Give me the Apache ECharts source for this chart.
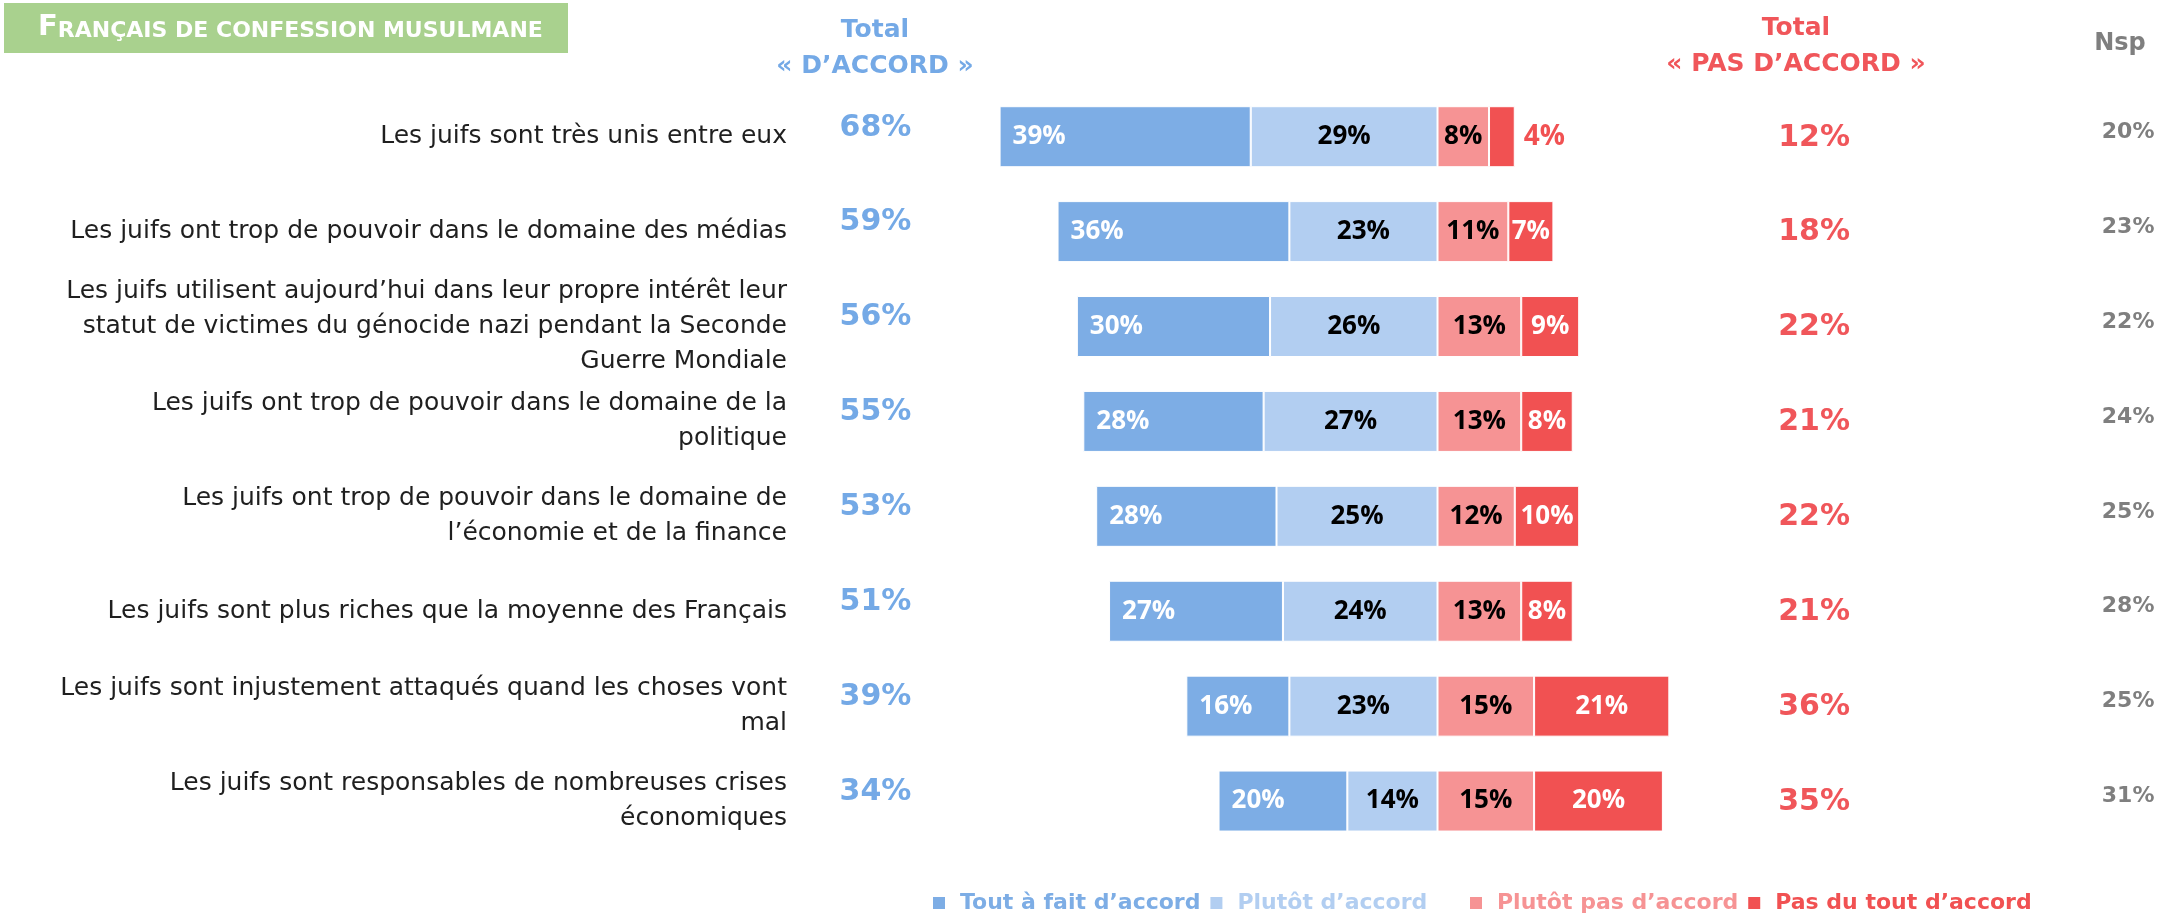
<!DOCTYPE html>
<html>
<head>
<meta charset="utf-8">
<script src="https://cdn.jsdelivr.net/npm/echarts@6/dist/echarts.min.js"></script>
<style>
  html, body { margin: 0; padding: 0; background: #fff; }
  #chart { width: 2158px; height: 913px; }
</style>
</head>
<body>
<div id="chart"></div>
<script>
// questions (line breaks as in the slide)
const categories = [
  "Les juifs sont très unis entre eux",
  "Les juifs ont trop de pouvoir dans le domaine des médias",
  "Les juifs utilisent aujourd’hui dans leur propre intérêt leur\nstatut de victimes du génocide nazi pendant la Seconde\nGuerre Mondiale",
  "Les juifs ont trop de pouvoir dans le domaine de la\npolitique",
  "Les juifs ont trop de pouvoir dans le domaine de\nl’économie et de la finance",
  "Les juifs sont plus riches que la moyenne des Français",
  "Les juifs sont injustement attaqués quand les choses vont\nmal",
  "Les juifs sont responsables de nombreuses crises\néconomiques"
];
const toutAFait = [39, 36, 30, 28, 28, 27, 16, 20];
const plutotAccord = [29, 23, 26, 27, 25, 24, 23, 14];
const plutotPas = [8, 11, 13, 13, 12, 13, 15, 15];
const pasDuTout = [4, 7, 9, 8, 10, 8, 21, 20];
const totalAccord = [68, 59, 56, 55, 53, 51, 39, 34];
const totalPasAccord = [12, 18, 22, 21, 22, 21, 36, 35];
const nsp = [20, 23, 22, 24, 25, 28, 25, 31];

const C_DARK = "#7DADE5";
const C_LIGHT = "#B2CEF1";
const C_PINK = "#F69394";
const C_RED = "#F15152";
const GEO = "DejaVu Sans";

let chart = echarts.init(document.getElementById("chart"));

function barLabel(color, pos) {
  return {
    show: true,
    position: pos,
    distance: 13,
    color: color,
    fontFamily: "Open Sans",
    fontWeight: "bold",
    fontSize: 26,
    formatter: p => Math.abs(p.value) + "%"
  };
}

// extra category axes used only to print a column of totals
function sideAxis(position, margin, values, color, size, padding) {
  return {
    type: "category",
    data: categories,
    inverse: true,
    position: position,
    offset: 0,
    axisLine: { show: false },
    axisTick: { show: false },
    axisLabel: {
      margin: margin,
      align: "center",
      formatter: (v, i) => "{v|" + values[i] + "%}",
      rich: {
        v: {
          color: color,
          fontFamily: GEO,
          fontWeight: "bold",
          fontSize: size,
          padding: padding
        }
      }
    }
  };
}

const option = {
  animation: false,
  backgroundColor: "#fff",
  grid: { left: 954.5, right: 462.9, top: 89.25, bottom: 64.5 },
  xAxis: { type: "value", min: -75, max: 40, show: false },
  yAxis: [
    {
      type: "category",
      data: categories,
      inverse: true,
      position: "left",
      axisLine: { show: false },
      axisTick: { show: false },
      axisLabel: {
        margin: 167.5,
        align: "right",
        color: "#1f1f1f",
        fontFamily: GEO,
        fontSize: 25,
        lineHeight: 35
      }
    },
    sideAxis("left", 79, totalAccord, "#74A9E6", 30, [0, 0, 18, 0]),
    sideAxis("right", 119, totalPasAccord, "#F0565A", 30, [2, 0, 0, 0]),
    sideAxis("right", 433, nsp, "#7F7F7F", 22, [0, 0, 9, 0])
  ],
  legend: [
    {
      left: 931, top: 892, padding: 0,
      itemWidth: 14, itemHeight: 14, itemGap: 8,
      icon: "rect",
      textStyle: { fontFamily: GEO, fontWeight: "bold", fontSize: 22, padding: [0, 0, 0, 9] },
      data: [
        { name: "Tout à fait d’accord", textStyle: { color: C_DARK } },
        { name: "Plutôt d’accord", textStyle: { color: C_LIGHT } }
      ]
    },
    {
      left: 1468, top: 892, padding: 0,
      itemWidth: 14, itemHeight: 14, itemGap: 8,
      icon: "rect",
      textStyle: { fontFamily: GEO, fontWeight: "bold", fontSize: 22, padding: [0, 0, 0, 9] },
      data: [
        { name: "Plutôt pas d’accord", textStyle: { color: C_PINK } },
        { name: "Pas du tout d’accord", textStyle: { color: C_RED } }
      ]
    }
  ],
  series: [
    {
      name: "Plutôt d’accord",
      type: "bar",
      stack: "total",
      barWidth: 61,
      data: plutotAccord.map(v => -v),
      itemStyle: { color: C_LIGHT, borderColor: "#fff", borderWidth: 1 },
      label: barLabel("#000", "inside")
    },
    {
      name: "Tout à fait d’accord",
      type: "bar",
      stack: "total",
      barWidth: 61,
      data: toutAFait.map(v => -v),
      itemStyle: { color: C_DARK, borderColor: "#fff", borderWidth: 1 },
      label: barLabel("#fff", "insideLeft")
    },
    {
      name: "Plutôt pas d’accord",
      type: "bar",
      stack: "total",
      barWidth: 61,
      data: plutotPas,
      itemStyle: { color: C_PINK, borderColor: "#fff", borderWidth: 1 },
      label: barLabel("#000", "inside")
    },
    {
      name: "Pas du tout d’accord",
      type: "bar",
      stack: "total",
      barWidth: 61,
      // tiny segments get their label outside, in red
      data: pasDuTout.map(v => v < 5 ? { value: v, label: { position: "right", distance: 9, color: C_RED, fontSize: 28 } } : v),
      itemStyle: { color: C_RED, borderColor: "#fff", borderWidth: 1 },
      label: barLabel("#fff", "inside")
    }
  ],
  graphic: [
    {
      type: "rect",
      left: 4, top: 3,
      shape: { width: 564, height: 50 },
      style: { fill: "#A9D18E" }
    },
    {
      type: "text",
      left: 38, top: 13,
      style: {
        text: "{b|F}{s|RANÇAIS DE CONFESSION MUSULMANE}",
        fill: "#fff",
        rich: {
          b: { fontFamily: GEO, fontWeight: "bold", fontSize: 29, fill: "#fff", verticalAlign: "bottom", lineHeight: 32 },
          s: { fontFamily: GEO, fontWeight: "bold", fontSize: 22, fill: "#fff", verticalAlign: "bottom", lineHeight: 32 }
        }
      }
    },
    {
      type: "text",
      x: 875, y: 30,
      style: { text: "Total", fill: "#74A9E6", font: "bold 25px " + GEO, align: "center", verticalAlign: "middle" }
    },
    {
      type: "text",
      x: 875, y: 66,
      style: { text: "« D’ACCORD »", fill: "#74A9E6", font: "bold 25px " + GEO, align: "center", verticalAlign: "middle" }
    },
    {
      type: "text",
      x: 1796, y: 28,
      style: { text: "Total", fill: "#F0565A", font: "bold 25px " + GEO, align: "center", verticalAlign: "middle" }
    },
    {
      type: "text",
      x: 1796, y: 64,
      style: { text: "« PAS D’ACCORD »", fill: "#F0565A", font: "bold 25px " + GEO, align: "center", verticalAlign: "middle" }
    },
    {
      type: "text",
      x: 2120, y: 44,
      style: { text: "Nsp", fill: "#7F7F7F", font: "bold 24px " + GEO, align: "center", verticalAlign: "middle" }
    }
  ]
};

chart.setOption(option);
window.onresize = function() {
  chart.resize();
};
</script>
</body>
</html>
